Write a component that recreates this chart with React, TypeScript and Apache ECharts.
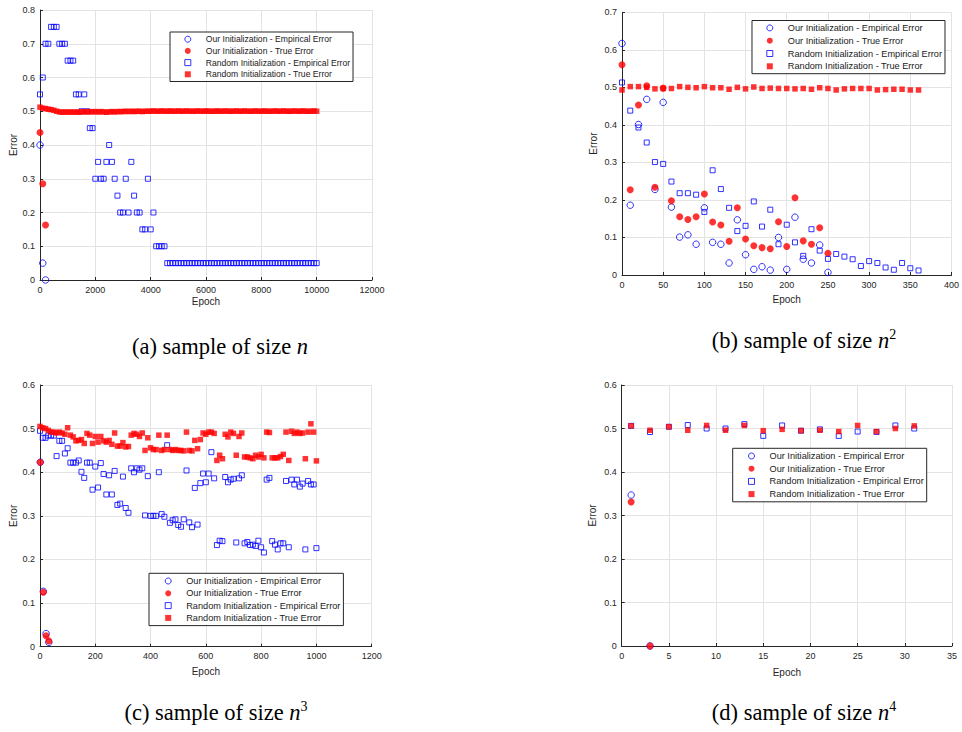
import React, { useEffect, useRef } from "react";
import * as echarts from "echarts";

// ---------------- data ----------------
const seriesNames = [
  "Our Initialization - Empirical Error",
  "Our Initialization - True Error",
  "Random Initialization - Empirical Error",
  "Random Initialization - True Error",
];

// (a) sample of size n
const epochsOurA = [0, 100, 200];
const ourEmpA = [0.4, 0.05, 0.0];
const ourTrueA = [0.437, 0.285, 0.163];
const epochsRandA = [
  0, 100, 200, 300, 400, 500, 600, 700, 800, 900, 1000, 1100, 1200, 1300, 1400, 1500, 1600, 1700, 1800, 1900,
  2000, 2100, 2200, 2300, 2400, 2500, 2600, 2700, 2800, 2900, 3000, 3100, 3200, 3300, 3400, 3500, 3600, 3700, 3800, 3900,
  4000, 4100, 4200, 4300, 4400, 4500, 4600, 4700, 4800, 4900, 5000, 5100, 5200, 5300, 5400, 5500, 5600, 5700, 5800, 5900,
  6000, 6100, 6200, 6300, 6400, 6500, 6600, 6700, 6800, 6900, 7000, 7100, 7200, 7300, 7400, 7500, 7600, 7700, 7800, 7900,
  8000, 8100, 8200, 8300, 8400, 8500, 8600, 8700, 8800, 8900, 9000, 9100, 9200, 9300, 9400, 9500, 9600, 9700, 9800, 9900,
  10000,
];
const randEmpA = [
  0.55, 0.6, 0.7, 0.7, 0.75, 0.75, 0.75, 0.7, 0.7, 0.7, 0.65, 0.65, 0.65, 0.55, 0.55, 0.5, 0.55, 0.5, 0.45, 0.45,
  0.3, 0.35, 0.3, 0.3, 0.35, 0.4, 0.35, 0.3, 0.25, 0.2, 0.2, 0.3, 0.2, 0.35, 0.25, 0.2, 0.2, 0.15, 0.15, 0.3,
  0.15, 0.2, 0.1, 0.1, 0.1, 0.1, 0.05, 0.05, 0.05, 0.05, 0.05, 0.05, 0.05, 0.05, 0.05, 0.05, 0.05, 0.05, 0.05, 0.05,
  0.05, 0.05, 0.05, 0.05, 0.05, 0.05, 0.05, 0.05, 0.05, 0.05, 0.05, 0.05, 0.05, 0.05, 0.05, 0.05, 0.05, 0.05, 0.05, 0.05,
  0.05, 0.05, 0.05, 0.05, 0.05, 0.05, 0.05, 0.05, 0.05, 0.05, 0.05, 0.05, 0.05, 0.05, 0.05, 0.05, 0.05, 0.05, 0.05, 0.05,
  0.05,
];
const randTrueA = [
  0.512, 0.509, 0.508, 0.506, 0.505, 0.503, 0.5, 0.498, 0.497, 0.498,
  0.497, 0.498, 0.497, 0.498, 0.497, 0.498, 0.499, 0.498, 0.499, 0.498,
  0.499, 0.498, 0.499, 0.498, 0.497, 0.498, 0.499, 0.498, 0.499, 0.499,
  0.499, 0.5, 0.499, 0.5, 0.499, 0.5, 0.5, 0.499, 0.5, 0.5,
  0.5, 0.501, 0.5, 0.5, 0.501, 0.5, 0.5, 0.501, 0.5, 0.5,
  0.501, 0.5, 0.5, 0.501, 0.5, 0.5, 0.5, 0.501, 0.5, 0.5,
  0.501, 0.5, 0.5, 0.5, 0.501, 0.5, 0.5, 0.501, 0.5, 0.5,
  0.5, 0.501, 0.5, 0.5, 0.501, 0.5, 0.5, 0.5, 0.501, 0.5,
  0.5, 0.501, 0.5, 0.5, 0.5, 0.501, 0.5, 0.5, 0.501, 0.5,
  0.5, 0.5, 0.501, 0.5, 0.5, 0.501, 0.5, 0.5, 0.5, 0.501,
  0.5,
];

// (b) sample of size n^2
const epochsOurB = [0, 10, 20, 30, 40, 50, 60, 70, 80, 90, 100, 110, 120, 130, 140, 150, 160, 170, 180, 190, 200, 210, 220, 230, 240, 250];
const ourEmpB = [0.617, 0.186, 0.401, 0.468, 0.228, 0.46, 0.181, 0.101, 0.107, 0.082, 0.179, 0.087, 0.082, 0.032, 0.147, 0.054, 0.015, 0.022, 0.013, 0.1, 0.015, 0.154, 0.042, 0.032, 0.08, 0.007];
const ourTrueB = [0.56, 0.227, 0.453, 0.504, 0.234, 0.498, 0.198, 0.155, 0.148, 0.155, 0.216, 0.141, 0.133, 0.09, 0.179, 0.096, 0.078, 0.073, 0.07, 0.142, 0.076, 0.206, 0.091, 0.082, 0.126, 0.058];
const epochsRandB = [0, 10, 20, 30, 40, 50, 60, 70, 80, 90, 100, 110, 120, 130, 140, 150, 160, 170, 180, 190, 200, 210, 220, 230, 240, 250, 260, 270, 280, 290, 300, 310, 320, 330, 340, 350, 360];
const randEmpB = [0.513, 0.438, 0.393, 0.353, 0.301, 0.296, 0.249, 0.218, 0.218, 0.214, 0.168, 0.279, 0.229, 0.179, 0.117, 0.131, 0.196, 0.129, 0.174, 0.082, 0.134, 0.087, 0.051, 0.122, 0.065, 0.043, 0.056, 0.049, 0.042, 0.024, 0.037, 0.032, 0.02, 0.014, 0.032, 0.018, 0.012];
const randTrueB = [0.493, 0.502, 0.502, 0.5, 0.496, 0.497, 0.497, 0.502, 0.5, 0.499, 0.502, 0.499, 0.499, 0.495, 0.5, 0.496, 0.501, 0.497, 0.498, 0.497, 0.497, 0.496, 0.497, 0.495, 0.499, 0.497, 0.493, 0.496, 0.497, 0.497, 0.497, 0.493, 0.494, 0.495, 0.495, 0.493, 0.493];

// (c) sample of size n^3
const epochsOurC = [1, 12, 22, 32];
const ourEmpC = [0.423, 0.127, 0.03, 0.01];
const ourTrueC = [0.423, 0.125, 0.025, 0.013];
const epochsRandC = [
  0, 10, 20, 30, 40, 50, 60, 70, 80, 90, 100, 110, 120, 130, 140, 150, 160, 170, 180, 190,
  200, 210, 220, 230, 240, 250, 260, 270, 280, 290, 300, 310, 320, 330, 340, 350, 360, 370, 380, 390,
  400, 410, 420, 430, 440, 450, 460, 470, 480, 490, 500, 510, 520, 530, 540, 550, 560, 570, 580, 590,
  600, 610, 620, 630, 640, 650, 660, 670, 680, 690, 700, 710, 720, 730, 740, 750, 760, 770, 780, 790,
  800, 810, 820, 830, 840, 850, 860, 870, 880, 890, 900, 910, 920, 930, 940, 950, 960, 970, 980, 990,
  1000,
];
const randEmpC = [
  0.495, 0.479, 0.479, 0.484, 0.484, 0.484, 0.437, 0.472, 0.472, 0.443, 0.455, 0.422, 0.422, 0.422, 0.427, 0.401, 0.387, 0.422, 0.422, 0.36,
  0.413, 0.365, 0.421, 0.396, 0.349, 0.393, 0.349, 0.403, 0.325, 0.328, 0.39, 0.318, 0.307, 0.409, 0.4, 0.409, 0.406, 0.409, 0.301, 0.391,
  0.3, 0.3, 0.3, 0.4, 0.304, 0.298, 0.462, 0.284, 0.29, 0.292, 0.279, 0.275, 0.292, 0.404, 0.285, 0.274, 0.364, 0.28, 0.375, 0.397,
  0.377, 0.397, 0.446, 0.386, 0.233, 0.243, 0.242, 0.389, 0.377, 0.383, 0.385, 0.239, 0.386, 0.393, 0.237, 0.24, 0.233, 0.234, 0.231, 0.243,
  0.228, 0.216, 0.383, 0.387, 0.242, 0.234, 0.223, 0.237, 0.237, 0.38, 0.228, 0.383, 0.372, 0.383, 0.367, 0.374, 0.223, 0.38, 0.372, 0.372,
  0.226,
];
const randTrueC = [
  0.505, 0.502, 0.5, 0.496, 0.492, 0.492, 0.49, 0.492, 0.49, 0.487, 0.502, 0.485, 0.481, 0.472, 0.473, 0.475, 0.466, 0.489, 0.485, 0.466,
  0.482, 0.469, 0.482, 0.472, 0.469, 0.473, 0.464, 0.49, 0.46, 0.46, 0.468, 0.458, 0.459, 0.485, 0.489, 0.487, 0.482, 0.49, 0.45, 0.479,
  0.456, 0.452, 0.452, 0.485, 0.45, 0.452, 0.485, 0.452, 0.45, 0.452, 0.45, 0.45, 0.449, 0.492, 0.45, 0.449, 0.473, 0.454, 0.475, 0.49,
  0.487, 0.492, 0.492, 0.489, 0.427, 0.439, 0.431, 0.487, 0.481, 0.492, 0.489, 0.439, 0.482, 0.49, 0.435, 0.435, 0.433, 0.431, 0.439, 0.435,
  0.441, 0.433, 0.492, 0.491, 0.433, 0.433, 0.433, 0.436, 0.441, 0.492, 0.427, 0.494, 0.489, 0.492, 0.489, 0.49, 0.431, 0.492, 0.511, 0.492,
  0.426,
];

// (d) sample of size n^4
const epochsOurD = [1, 3];
const ourEmpD = [0.347, 0.0];
const ourTrueD = [0.331, 0.0];
const epochsRandD = [1, 3, 5, 7, 9, 11, 13, 15, 17, 19, 21, 23, 25, 27, 29, 31];
const randEmpD = [0.506, 0.492, 0.504, 0.508, 0.5, 0.5, 0.51, 0.483, 0.507, 0.495, 0.498, 0.483, 0.493, 0.492, 0.507, 0.5];
const randTrueD = [0.506, 0.496, 0.504, 0.496, 0.507, 0.496, 0.507, 0.495, 0.498, 0.495, 0.496, 0.493, 0.507, 0.493, 0.5, 0.506];

// axis ranges / ticks
const xMaxes = [12000, 400, 1200, 35];
const xIntervals = [2000, 50, 200, 5];
const yMaxes = [0.8, 0.7, 0.6, 0.6];
const yInterval = 0.1;

const captions = [
  { label: "(a) sample of size ", sup: "" },
  { label: "(b) sample of size ", sup: "2" },
  { label: "(c) sample of size ", sup: "3" },
  { label: "(d) sample of size ", sup: "4" },
];

// ---------------- styling ----------------
const SANS = "'Liberation Sans', Arial, Helvetica, sans-serif";
const SERIF = "'Liberation Serif', 'Times New Roman', Times, serif";
const AX = "#262626";
const GRID = "#e3e3e3";
const BLUE = "#0000ff";
const RED = "#ff0000";
const CLEAR = "rgba(0,0,0,0)";
const SQUARE_ICON = "path://M0,0L10,0L10,10L0,10Z";

const grids = [
  { left: 40, top: 10, width: 332, height: 270 },
  { left: 622, top: 12.3, width: 331, height: 262.7 },
  { left: 40, top: 385, width: 331.7, height: 261.7 },
  { left: 621.7, top: 385, width: 330.3, height: 261 },
];
const xNameGaps = [16, 19.5, 20, 21];
const yNameGaps = [22, 24, 22, 24];
const legendBoxes = [
  { left: 170, top: 32, gap: 1.7, font: 8.6, pad: [2.2, 3, 2.2, 14.3] },
  { left: 752, top: 20.5, gap: 2.8, font: 9.2, pad: [2.4, 3, 2.4, 14.3] },
  { left: 149, top: 573.3, gap: 2.3, font: 9.2, pad: [2.7, 3, 2.7, 15.7] },
  { left: 732.7, top: 448.3, gap: 2.7, font: 9.2, pad: [2.7, 3, 2.7, 15.3] },
];
const captionPos = [
  { x: 220, y: 346 },
  { x: 804, y: 340 },
  { x: 216, y: 712 },
  { x: 804, y: 712 },
];

const markerStyles = [
  { symbol: "circle", icon: "circle", symbolSize: 6.5, itemStyle: { color: CLEAR, borderColor: BLUE, borderWidth: 1 } },
  { symbol: "circle", icon: "circle", symbolSize: 7, itemStyle: { color: RED, borderWidth: 0 } },
  { symbol: "rect", icon: SQUARE_ICON, symbolSize: 5, itemStyle: { color: CLEAR, borderColor: BLUE, borderWidth: 1 } },
  { symbol: "rect", icon: SQUARE_ICON, symbolSize: 5.5, itemStyle: { color: RED, borderWidth: 0 } },
];

function pairs(xs: number[], ys: number[]) {
  return xs.map((x, i) => [x, ys[i]]);
}

function buildOption() {
  const panels = [
    [pairs(epochsOurA, ourEmpA), pairs(epochsOurA, ourTrueA), pairs(epochsRandA, randEmpA), pairs(epochsRandA, randTrueA)],
    [pairs(epochsOurB, ourEmpB), pairs(epochsOurB, ourTrueB), pairs(epochsRandB, randEmpB), pairs(epochsRandB, randTrueB)],
    [pairs(epochsOurC, ourEmpC), pairs(epochsOurC, ourTrueC), pairs(epochsRandC, randEmpC), pairs(epochsRandC, randTrueC)],
    [pairs(epochsOurD, ourEmpD), pairs(epochsOurD, ourTrueD), pairs(epochsRandD, randEmpD), pairs(epochsRandD, randTrueD)],
  ];

  const xAxis = grids.map((_, gi) => ({
    type: "value",
    gridIndex: gi,
    min: 0,
    max: xMaxes[gi],
    interval: xIntervals[gi],
    name: "Epoch",
    nameLocation: "middle",
    nameGap: xNameGaps[gi],
    nameTextStyle: { fontSize: 10, color: AX, fontFamily: SANS },
    axisLine: { show: true, onZero: false, lineStyle: { color: AX, width: 1 } },
    axisTick: { show: true, inside: true, length: 3, lineStyle: { color: AX } },
    axisLabel: { fontSize: 9, color: AX, fontFamily: SANS, margin: 5, formatter: (v: number) => String(v) },
    splitLine: { show: true, lineStyle: { color: GRID, width: 1 } },
  }));

  const yAxis = grids.map((_, gi) => ({
    type: "value",
    gridIndex: gi,
    min: 0,
    max: yMaxes[gi],
    interval: yInterval,
    name: "Error",
    nameLocation: "middle",
    nameGap: yNameGaps[gi],
    nameTextStyle: { fontSize: 10, color: AX, fontFamily: SANS },
    axisLine: { show: true, onZero: false, lineStyle: { color: AX, width: 1 } },
    axisTick: { show: true, inside: true, length: 3, lineStyle: { color: AX } },
    axisLabel: {
      fontSize: 9,
      color: AX,
      fontFamily: SANS,
      margin: 5,
      formatter: (v: number) => String(Math.round(v * 10) / 10),
    },
    splitLine: { show: true, lineStyle: { color: GRID, width: 1 } },
  }));

  const series: any[] = [];
  panels.forEach((panel, gi) => {
    panel.forEach((data, si) => {
      series.push({
        type: "scatter",
        name: seriesNames[si],
        xAxisIndex: gi,
        yAxisIndex: gi,
        data,
        symbol: markerStyles[si].symbol,
        symbolSize: markerStyles[si].symbolSize,
        itemStyle: markerStyles[si].itemStyle,
        silent: true,
        z: 2 + si,
      });
    });
  });

  const legendData = seriesNames.map((name, si) => ({
    name,
    icon: markerStyles[si].icon,
    itemStyle: markerStyles[si].itemStyle,
  }));

  const legend = legendBoxes.map((b) => ({
    orient: "vertical",
    left: b.left,
    top: b.top,
    itemWidth: 26,
    itemHeight: 6,
    itemGap: b.gap,
    padding: b.pad,
    symbolKeepAspect: true,
    selectedMode: false,
    borderColor: AX,
    borderWidth: 1,
    backgroundColor: "#ffffff",
    textStyle: { fontSize: b.font, lineHeight: 10, color: "#1a1a1a", fontFamily: SANS },
    data: legendData,
  }));

  const graphic = captions.map((c, i) => ({
    type: "text",
    x: captionPos[i].x,
    y: captionPos[i].y,
    silent: true,
    style: {
      text: c.sup ? `{r|${c.label}}{i|n}{s|${c.sup}}` : `{r|${c.label}}{i|n}`,
      align: "center",
      verticalAlign: "middle",
      rich: {
        r: { fontFamily: SERIF, fontSize: 22.5, fill: "#000", lineHeight: 26 },
        i: { fontFamily: SERIF, fontSize: 22.5, fontStyle: "italic", fill: "#000", lineHeight: 26 },
        s: { fontFamily: SERIF, fontSize: 14, fill: "#000", verticalAlign: "top", lineHeight: 14 },
      },
    },
  }));

  return {
    animation: false,
    backgroundColor: "#ffffff",
    grid: grids.map((g) => ({ ...g, containLabel: false })),
    xAxis,
    yAxis,
    legend,
    series,
    graphic,
  };
}

export default function App() {
  const ref = useRef<HTMLDivElement>(null);
  useEffect(() => {
    if (!ref.current) return;
    const chart = echarts.init(ref.current, undefined, { renderer: "svg" });
    chart.setOption(buildOption() as any);
    return () => chart.dispose();
  }, []);
  return (
    <div
      ref={ref}
      style={{ position: "absolute", left: 0, top: 0, width: 962, height: 732, background: "#fff" }}
    />
  );
}
